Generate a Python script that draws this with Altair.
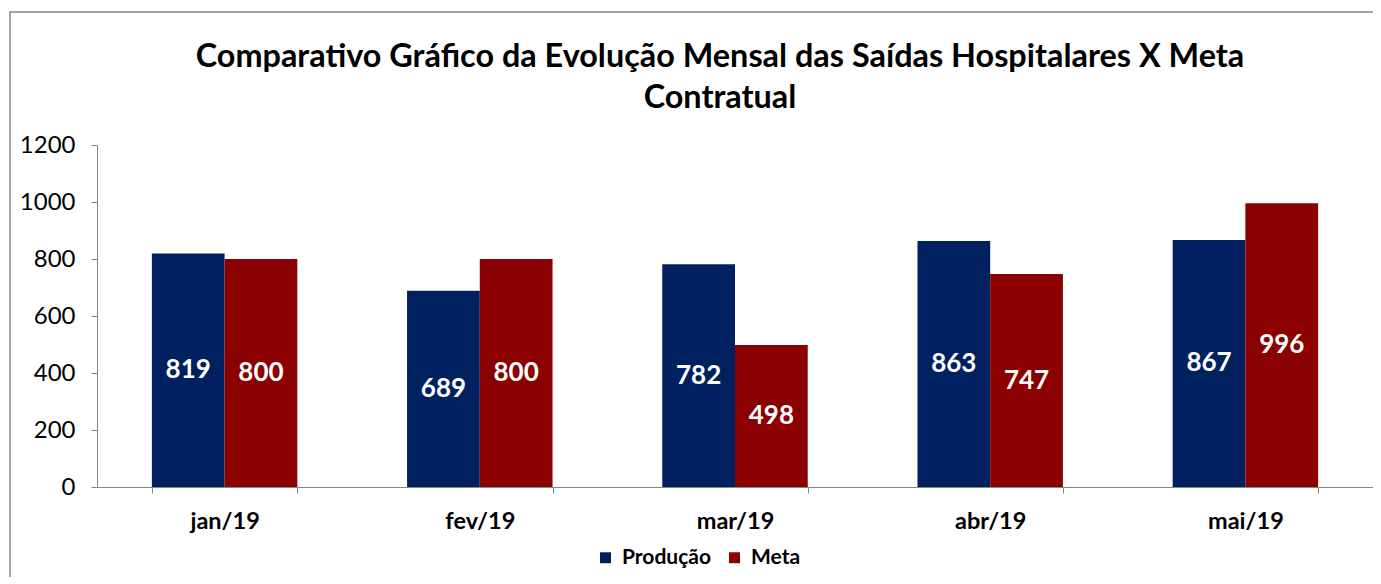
import altair as alt
import pandas as pd

months = ["jan/19", "fev/19", "mar/19", "abr/19", "mai/19"]
producao = [819, 689, 782, 863, 867]
meta = [800, 800, 498, 747, 996]
series = ["Produção", "Meta"]
colors = ["#002060", "#8B0000"]
y_ticks = [0, 200, 400, 600, 800, 1000, 1200]
title_lines = ["Comparativo Gráfico da Evolução Mensal das Saídas Hospitalares X Meta",
               "Contratual"]

rows = []
for m, p, t in zip(months, producao, meta):
    rows.append({"mes": m, "serie": series[0], "valor": p})
    rows.append({"mes": m, "serie": series[1], "valor": t})
df = pd.DataFrame(rows)

FONT = "Lato"

x_enc = alt.X("mes:N", sort=months, title=None,
              scale=alt.Scale(paddingInner=0.43, paddingOuter=0.215),
              axis=alt.Axis(labelAngle=0, labelFont=FONT, labelFontSize=23.5,
                            labelFontWeight="bold", labelColor="#000000",
                            labelPadding=16, tickBand="extent", tickSize=6,
                            tickColor="#868686", domainColor="#868686",
                            grid=False))
xo_enc = alt.XOffset("serie:N", sort=series,
                     scale=alt.Scale(paddingInner=0, paddingOuter=0))

bars = alt.Chart(df).mark_bar(strokeWidth=0).encode(
    x=x_enc,
    xOffset=xo_enc,
    y=alt.Y("valor:Q", title=None,
            scale=alt.Scale(domain=[0, 1200], nice=False),
            axis=alt.Axis(values=y_ticks, format="d", labelFont=FONT, labelFontSize=24,
                          labelColor="#000000", labelPadding=16, tickSize=6,
                          tickColor="#868686", domainColor="#868686",
                          grid=False)),
    color=alt.Color("serie:N", sort=series,
                    scale=alt.Scale(domain=series, range=colors),
                    legend=alt.Legend(title=None, orient="none", direction="horizontal",
                                      legendX=498, legendY=402,
                                      symbolType="square", symbolSize=120,
                                      symbolStrokeWidth=0,
                                      labelFont=FONT, labelFontSize=21,
                                      labelFontWeight="bold", labelColor="#000000",
                                      labelOffset=6, columnPadding=12)),
)

labels = alt.Chart(df).transform_calculate(
    mid="datum.valor / 2"
).mark_text(font=FONT, fontSize=26, fontWeight="bold", color="white",
            baseline="middle", align="center").encode(
    x=alt.X("mes:N", sort=months),
    xOffset=alt.XOffset("serie:N", sort=series),
    y=alt.Y("mid:Q"),
    text=alt.Text("valor:Q"),
)

border = alt.Chart(alt.Data(values=[{"b": 1}])).mark_rect(
    fill=None, stroke="#868686", strokeWidth=1.5
).encode(
    x=alt.value(-87), x2=alt.value(1400),
    y=alt.value(-133), y2=alt.value(600),
)

title1 = alt.Chart(alt.Data(values=[{"t": title_lines[0]}])).mark_text(
    font=FONT, fontSize=32.4, fontWeight="bold", color="#000000",
    align="center", baseline="middle"
).encode(x=alt.value(623), y=alt.value(-88), text="t:N")

title2 = alt.Chart(alt.Data(values=[{"t": title_lines[1]}])).mark_text(
    font=FONT, fontSize=32.4, fontWeight="bold", color="#000000",
    align="center", baseline="middle"
).encode(x=alt.value(623), y=alt.value(-47), text="t:N")

chart = alt.layer(border, title1, title2, bars, labels).properties(
    width=1276,
    height=342,
    padding={"left": 89, "top": 137, "right": 0, "bottom": 90},
    autosize=alt.AutoSizeParams(type="none"),
    background="white",
).configure_view(stroke=None, strokeWidth=0).configure_axis(grid=False)

chart.save("out.html", embed_options={"renderer": "svg", "actions": False})
